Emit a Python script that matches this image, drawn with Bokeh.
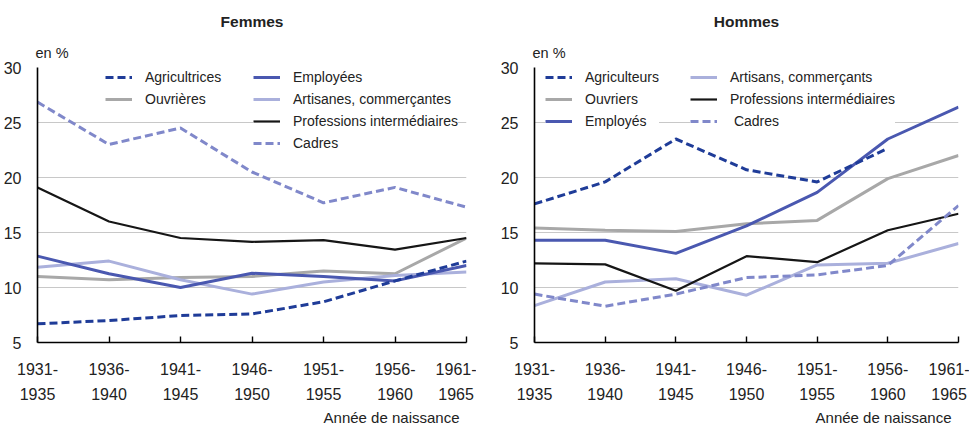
import math
from bokeh.plotting import figure
from bokeh.layouts import row
from bokeh.models import Range1d, FixedTicker, Legend, LegendItem, Title
from bokeh.embed import file_html
from bokeh.resources import INLINE

nan = float("nan")

# ---- data ----
cohort_start = ["1931-", "1936-", "1941-", "1946-", "1951-", "1956-", "1961-"]
cohort_end = ["1935", "1940", "1945", "1950", "1955", "1960", "1965"]
y_ticks = [5, 10, 15, 20, 25, 30]

f_agricultrices = [6.7, 7.0, 7.45, 7.6, 8.7, 10.6, 12.4]
f_ouvrieres = [11.0, 10.7, 10.9, 11.0, 11.5, 11.25, 14.5]
f_employees = [12.85, 11.25, 10.0, 11.3, 11.0, 10.6, 12.0]
f_artisanes = [11.85, 12.4, 10.7, 9.4, 10.5, 11.1, 11.4]
f_prof_inter = [19.1, 16.0, 14.5, 14.15, 14.3, 13.45, 14.5]
f_cadres = [26.85, 23.0, 24.5, 20.5, 17.7, 19.1, 17.3]

h_agriculteurs = [17.6, 19.6, 23.5, 20.7, 19.6, 22.65, nan]
h_ouvriers = [15.4, 15.2, 15.1, 15.8, 16.1, 19.9, 22.0]
h_employes = [14.3, 14.3, 13.1, 15.6, 18.65, 23.5, 26.4]
h_artisans = [8.35, 10.5, 10.8, 9.3, 12.05, 12.2, 14.0]
h_prof_inter = [12.2, 12.1, 9.7, 12.85, 12.3, 15.2, 16.7]
h_cadres = [9.4, 8.3, 9.4, 10.9, 11.15, 12.0, 17.45]

# ---- styles ----
FONT = "Liberation Sans"
TXT = "#222222"
C_AGRI = "#1f3c98"
C_OUV = "#a8a8a8"
C_EMP = "#4a58b0"
C_ART = "#aab0dc"
C_PI = "#161616"
C_CAD = "#8088ca"

STYLE = {
    "agri": dict(line_color=C_AGRI, line_width=3, line_dash="8 4"),
    "ouv": dict(line_color=C_OUV, line_width=3),
    "emp": dict(line_color=C_EMP, line_width=3),
    "art": dict(line_color=C_ART, line_width=3),
    "pi": dict(line_color=C_PI, line_width=2.2),
    "cad": dict(line_color=C_CAD, line_width=3, line_dash="8 4"),
}


def make_panel(title, series, labels, legend_cols, width, bl, br):
    p = figure(width=width, height=425, output_backend="svg",
               toolbar_location=None, x_range=Range1d(0, 6),
               y_range=Range1d(5, 30), min_border_left=bl,
               min_border_right=br, min_border_top=67, min_border_bottom=83,
               title=None)
    p.outline_line_color = None
    p.background_fill_color = "white"
    p.border_fill_color = "white"
    p.xgrid.visible = False
    p.ygrid.grid_line_color = "#c8c8c8"
    p.ygrid.grid_line_width = 1

    yax = p.yaxis[0]
    yax.ticker = FixedTicker(ticks=y_ticks)
    yax.axis_line_color = "black"
    yax.axis_line_width = 1.6
    yax.major_tick_line_color = None
    yax.minor_tick_line_color = None
    yax.major_label_text_font = FONT
    yax.major_label_text_font_size = "16px"
    yax.major_label_text_color = TXT
    yax.major_label_standoff = 10

    xs = list(range(len(cohort_start)))
    xax = p.xaxis[0]
    xax.ticker = FixedTicker(ticks=xs)
    xax.axis_line_color = "black"
    xax.axis_line_width = 1.6
    xax.major_tick_in = 6
    xax.major_tick_out = 0
    xax.major_tick_line_color = "black"
    xax.major_tick_line_width = 1.4
    xax.minor_tick_line_color = None
    xax.major_label_text_font = FONT
    xax.major_label_text_font_size = "16px"
    xax.major_label_text_color = TXT
    xax.major_label_text_line_height = 1.5
    xax.major_label_standoff = 18
    xax.major_label_overrides = {i: a + "\n" + b for i, (a, b)
                                 in enumerate(zip(cohort_start, cohort_end))}

    renderers = {}
    for key in ["ouv", "art", "emp", "pi", "cad", "agri"]:
        renderers[key] = p.line(xs, series[key], **STYLE[key])

    # titles: inner first
    p.add_layout(Title(text="en %", align="left", offset=-2, standoff=13,
                       text_font=FONT, text_font_size="14.5px",
                       text_font_style="normal", text_color=TXT), "above")
    p.add_layout(Title(text=title, align="center", standoff=13,
                       text_font=FONT, text_font_size="15.5px",
                       text_font_style="bold", text_color=TXT), "above")
    p.add_layout(Title(text="Année de naissance", align="right",
                       offset=7, standoff=0, text_font=FONT,
                       text_font_size="15px", text_font_style="normal",
                       text_line_height=1.0, text_color=TXT), "below")

    for keys, loc in legend_cols:
        items = [LegendItem(label=labels[k], renderers=[renderers[k]])
                 for k in keys]
        lg = Legend(items=items, location=loc, orientation="vertical",
                    glyph_width=27, glyph_height=20, label_height=20,
                    label_standoff=13, spacing=2, padding=0, margin=0,
                    border_line_color=None, background_fill_color="white",
                    background_fill_alpha=1.0, label_text_font=FONT,
                    label_text_font_size="14px", label_text_color=TXT)
        p.add_layout(lg)
    return p


f_series = dict(agri=f_agricultrices, ouv=f_ouvrieres, emp=f_employees,
                art=f_artisanes, pi=f_prof_inter, cad=f_cadres)
f_labels = dict(agri="Agricultrices", ouv="Ouvrières", emp="Employées",
                art="Artisanes, commerçantes",
                pi="Professions intermédiaires", cad="Cadres")
h_series = dict(agri=h_agriculteurs, ouv=h_ouvriers, emp=h_employes,
                art=h_artisans, pi=h_prof_inter, cad=h_cadres)
h_labels = dict(agri="Agriculteurs", ouv="Ouvriers", emp="Employés",
                art="Artisans, commerçants",
                pi="Professions intermédiaires", cad=" Cadres")

p1 = make_panel("Femmes", f_series, f_labels,
                [(["agri", "ouv"], (68, 233)),
                 (["emp", "art", "pi", "cad"], (216, 189))],
                476, 37, 10)
p2 = make_panel("Hommes", h_series, h_labels,
                [(["agri", "ouv", "emp"], (11, 211)),
                 (["art", "pi", "cad"], (156, 211))],
                493, 58, 11)

layout = row(p1, p2)
open("out.html", "w").write(file_html(layout, INLINE))
